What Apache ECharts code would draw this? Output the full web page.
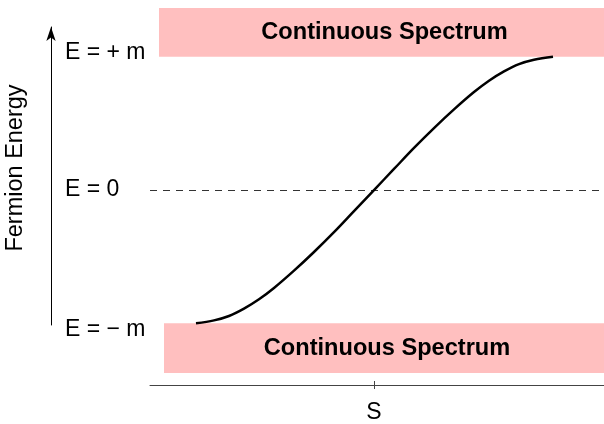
<!DOCTYPE html>
<html>
<head>
<meta charset="utf-8">
<script src="https://cdn.jsdelivr.net/npm/echarts@6/dist/echarts.min.js"></script>
<style>html,body{margin:0;padding:0;background:#fff}#c{width:604px;height:424px}</style>
</head>
<body>
<div id="c"></div>
<script>
// curve: position S vs fermion energy E (in units of m)
var sValues = [-1.78, -1.6, -1.45, -1.3, -1.15, -1.0, -0.8, -0.6, -0.4, -0.2, 0, 0.2, 0.4, 0.6, 0.8, 1.0, 1.15, 1.3, 1.45, 1.6, 1.79];
var eValues = [-1.0, -0.978, -0.945, -0.89, -0.82, -0.735, -0.605, -0.465, -0.316, -0.158, 0, 0.158, 0.316, 0.465, 0.605, 0.735, 0.82, 0.89, 0.945, 0.978, 1.0];
// continuous spectrum bands [sStart, eStart, sEnd, eEnd]
var bandUpper = [-2.15, 1.0, 2.30, 1.366];
var bandLower = [-2.10, -1.0, 2.30, -1.373];
var bandText = 'Continuous Spectrum';
// tick labels
var yTickValues = [-1, 0, 1];
var yTickLabels = ['E = \u2212 m', 'E = 0', 'E = + m'];
var xTickValues = [0];
var xTickLabels = ['S'];
var yName = 'Fermion Energy';

var FONT = 'Liberation Sans, Arial, Helvetica, sans-serif';
var chart = echarts.init(document.getElementById('c'), null, {renderer: 'canvas'});
var data = sValues.map(function (s, i) { return [s, eValues[i]]; });
var bandStyle = {color: '#ffbfbf', opacity: 1};
var bandLabel = {show: true, position: 'inside', formatter: bandText, color: '#000', fontFamily: FONT, fontWeight: 'bold', fontSize: 23.6, offset: [3, 0]};

chart.setOption({
  animation: false,
  backgroundColor: '#fff',
  grid: [
    {left: 150, right: 0, top: 8, bottom: 37, containLabel: false},
    {left: 51, width: 10, top: 27, bottom: 99, containLabel: false}
  ],
  xAxis: [
    {type: 'value', gridIndex: 0, min: -2.24, max: 2.30,
      axisLine: {show: true, onZero: false, lineStyle: {color: '#444', width: 1}},
      axisTick: {show: true, length: 4, customValues: xTickValues, lineStyle: {color: '#444'}},
      axisLabel: {show: true, customValues: xTickValues, margin: 16, fontFamily: FONT, fontSize: 23, color: '#000',
        formatter: function (v) { return xTickLabels[xTickValues.indexOf(v)] || ''; }},
      splitLine: {show: false}},
    {type: 'value', gridIndex: 0, min: -2.24, max: 2.30, position: 'bottom',
      axisLine: {show: false, onZero: false},
      axisTick: {show: true, inside: true, length: 4, customValues: xTickValues, lineStyle: {color: '#444'}},
      axisLabel: {show: false}, splitLine: {show: false}},
    {type: 'value', gridIndex: 1, show: false}
  ],
  yAxis: [
    {type: 'value', gridIndex: 0, min: -1.463, max: 1.366,
      axisLine: {show: false}, axisTick: {show: false}, splitLine: {show: false},
      axisLabel: {show: true, customValues: yTickValues, align: 'left', margin: 85, fontFamily: FONT, fontSize: 23, color: '#000',
        formatter: function (v) {
          var i = yTickValues.indexOf(v);
          var t = yTickLabels[i] || '';
          if (v > 0) return '{up|' + t + '}';
          if (v < 0) return '{dn|' + t + '}';
          return t;
        },
        rich: {
          up: {fontFamily: FONT, fontSize: 23, color: '#000', padding: [0, 0, 8, 0]},
          dn: {fontFamily: FONT, fontSize: 23, color: '#000', padding: [12, 0, 0, 0]}
        }}},
    {type: 'value', gridIndex: 1, min: 0, max: 1,
      name: yName, nameLocation: 'middle', nameRotate: 90, nameGap: 23,
      nameTextStyle: {fontFamily: FONT, fontSize: 23.5, color: '#000', padding: [0, 0, 0, 16]},
      axisLine: {show: true, symbol: ['none', 'arrow'], symbolSize: [7, 14], lineStyle: {color: '#000', width: 1}},
      axisTick: {show: false}, axisLabel: {show: false}, splitLine: {show: false}}
  ],
  series: [{
    type: 'line', xAxisIndex: 0, yAxisIndex: 0,
    data: data, smooth: 0.35, showSymbol: false, symbol: 'none',
    lineStyle: {color: '#000', width: 2.5},
    z: 5,
    markArea: {
      silent: true,
      data: [
        [{coord: [bandUpper[0], bandUpper[1]], itemStyle: bandStyle, label: bandLabel}, {coord: [bandUpper[2], bandUpper[3]]}],
        [{coord: [bandLower[0], bandLower[1]], itemStyle: bandStyle, label: bandLabel}, {coord: [bandLower[2], bandLower[3]]}]
      ]
    },
    markLine: {
      silent: true, symbol: 'none', label: {show: false},
      lineStyle: {color: '#333', width: 1, type: [7, 6]},
      data: [{yAxis: 0}]
    }
  }]
});
</script>
</body>
</html>
